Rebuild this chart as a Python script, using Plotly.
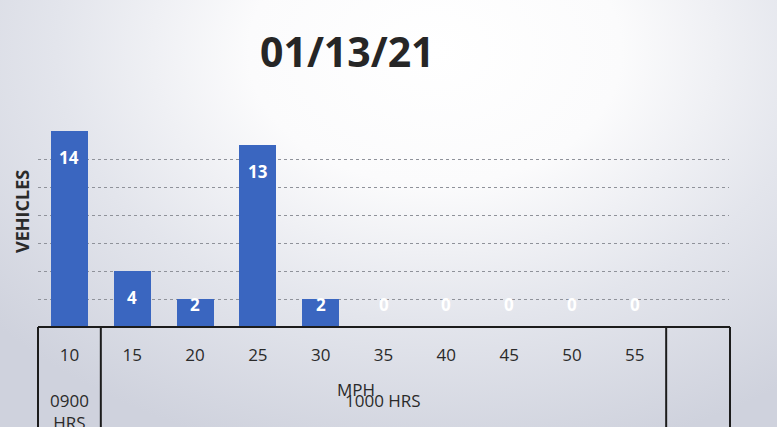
import plotly.graph_objects as go

# Speed survey: vehicle counts per MPH bin
speeds = ["10", "15", "20", "25", "30", "35", "40", "45", "50", "55"]
vehicles = [14, 4, 2, 13, 2, 0, 0, 0, 0, 0]
grid_levels = [2, 4, 6, 8, 10, 12]
chart_title = "01/13/21"
y_title = "VEHICLES"
x_title = "MPH"
left_period = "0900<br>HRS"
right_period = "1000 HRS"

W, H = 777, 427
L, R, T, B = 38, 48, 103, 100
BAR_COLOR = "#3a66c0"
LINE_COLOR = "#1c1c1c"
TEXT_COLOR = "#2a2a2a"


def py(pix):
    """pixel row -> paper y"""
    return (H - B - pix) / (H - T - B)


def px(pix):
    """pixel column -> paper x"""
    return (pix - L) / (W - L - R)


# scanned-paper background: white glow near the top, grey-blue toward the edges
bg_svg = (
    "data:image/svg+xml;utf8,"
    "<svg xmlns='http://www.w3.org/2000/svg' width='777' height='427'>"
    "<defs><radialGradient id='g' cx='0.56' cy='0.12' r='0.75' "
    "gradientTransform='translate(0.56 0.12) scale(1 1.3) translate(-0.56 -0.12)'>"
    "<stop offset='0' stop-color='%23ffffff'/>"
    "<stop offset='0.32' stop-color='%23fbfbfc'/>"
    "<stop offset='0.65' stop-color='%23e3e5ec'/>"
    "<stop offset='1' stop-color='%23cfd2dd'/>"
    "</radialGradient></defs>"
    "<rect width='777' height='427' fill='url(%23g)'/></svg>"
)

fig = go.Figure()
fig.add_trace(go.Bar(
    x=list(range(len(speeds))),
    y=vehicles,
    width=0.59,
    marker=dict(color=BAR_COLOR, line=dict(width=0)),
    hoverinfo="skip",
))

# value labels near the top of each bar, kept above the baseline for short bars
annotations = []
for i, v in enumerate(vehicles):
    annotations.append(dict(
        x=i, y=max(v - 1.9, 1.6), xref="x", yref="y",
        text=f"<b>{v}</b>", showarrow=False, yanchor="middle",
        font=dict(family="Open Sans", size=17, color="white"),
    ))

# chart title
annotations.append(dict(
    x=px(347), y=py(51), xref="paper", yref="paper",
    text=f"<b>{chart_title}</b>", showarrow=False,
    xanchor="center", yanchor="middle",
    font=dict(family="Open Sans", size=41, color="#262626"),
))
# rotated y-axis title
annotations.append(dict(
    x=px(22), y=py(212), xref="paper", yref="paper",
    text=f"<b>{y_title}</b>", showarrow=False, textangle=-90,
    xanchor="center", yanchor="middle",
    font=dict(family="Open Sans", size=18, color=TEXT_COLOR),
))
# x-axis title and the time periods in the table below
annotations.append(dict(
    x=px(356), y=py(389), xref="paper", yref="paper", text=x_title,
    showarrow=False, xanchor="center", yanchor="middle",
    font=dict(family="Open Sans", size=17, color=TEXT_COLOR),
))
annotations.append(dict(
    x=px(383), y=py(400), xref="paper", yref="paper", text=right_period,
    showarrow=False, xanchor="center", yanchor="middle",
    font=dict(family="Open Sans", size=17, color=TEXT_COLOR),
))
annotations.append(dict(
    x=0, y=py(387), xref="x", yref="paper", text=left_period,
    showarrow=False, xanchor="center", yanchor="top", align="center",
    font=dict(family="Open Sans", size=17, color=TEXT_COLOR),
))

# table box under the plot
box_line = dict(color=LINE_COLOR, width=2)
shapes = [
    dict(type="line", xref="paper", yref="paper", x0=0, x1=px(730),
         y0=py(327), y1=py(327), line=box_line),
    dict(type="line", xref="paper", yref="paper", x0=0, x1=0,
         y0=py(327), y1=py(440), line=box_line),
    dict(type="line", xref="paper", yref="paper", x0=px(730), x1=px(730),
         y0=py(327), y1=py(440), line=box_line),
    dict(type="line", xref="x", yref="paper", x0=0.5, x1=0.5,
         y0=py(327), y1=py(440), line=box_line),
    dict(type="line", xref="x", yref="paper", x0=9.5, x1=9.5,
         y0=py(327), y1=py(440), line=box_line),
]

fig.update_layout(
    width=W, height=H,
    margin=dict(l=L, r=R, t=T, b=B, pad=0),
    paper_bgcolor="#d6d9e2",
    plot_bgcolor="rgba(0,0,0,0)",
    showlegend=False,
    bargap=0,
    images=[dict(source=bg_svg, xref="paper", yref="paper",
                 x=px(0), y=py(0), sizex=W / (W - L - R), sizey=H / (H - T - B),
                 xanchor="left", yanchor="top", sizing="stretch", layer="below")],
    xaxis=dict(
        range=[-0.5, 10.5],
        tickmode="array", tickvals=list(range(len(speeds))), ticktext=speeds,
        ticks="outside", ticklen=13, tickcolor="rgba(0,0,0,0)",
        tickfont=dict(family="Open Sans", size=17, color=TEXT_COLOR),
        showgrid=False, zeroline=False, showline=False, fixedrange=True,
    ),
    yaxis=dict(
        range=[0, 16],
        tickmode="array", tickvals=grid_levels,
        showticklabels=False, ticks="",
        showgrid=True, gridcolor="#8f929a", griddash="dot", gridwidth=1,
        zeroline=False, showline=False, fixedrange=True,
    ),
    annotations=annotations,
    shapes=shapes,
)

fig.write_html("out.html")
